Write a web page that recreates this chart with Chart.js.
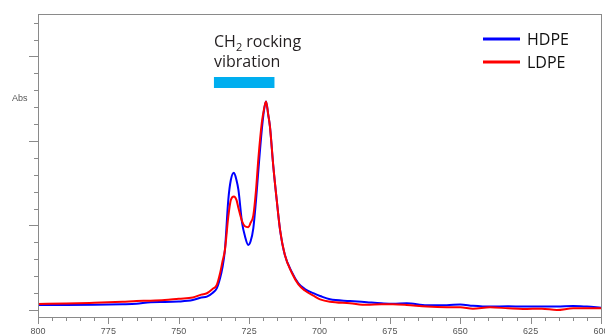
<!DOCTYPE html>
<html lang="en">
<head>
  <meta charset="UTF-8">
  <title>CH2 rocking vibration - HDPE vs LDPE</title>
  <script src="https://cdn.jsdelivr.net/npm/chart.js"></script>
  <style>
    body { margin: 0; background: #fff; }
    canvas { display: block; }
  </style>
</head>
<body>
  <canvas id="irChart" width="605" height="335"></canvas>

  <script>
    // wavenumber (cm-1)
    const wavenumbers = [800, 790, 780, 770, 765, 760, 755, 750, 745, 742, 740, 738, 736.5, 735.3, 734.5,
      733.6, 732.4, 731.5, 730.4, 729.5, 728.8, 727.5, 726.5, 725.3, 724.5, 723.5, 722.6, 721.7, 720.5,
      719.7, 719.0, 718.2, 717.6, 716.4, 715.2, 714.0, 712.3, 709.9, 707.5, 705.2, 701.6, 699.8, 696.3,
      689.2, 683.2, 678, 673.9, 669, 661.9, 654.8, 650, 645.5, 639.4, 633, 627.7, 621, 615.7, 609.9, 605, 600];

    const hdpe = [0.0030, 0.0030, 0.0031, 0.0034, 0.0037, 0.0046, 0.0047, 0.0050, 0.0059, 0.0074, 0.0079,
      0.0101, 0.0128, 0.0189, 0.0249, 0.0355, 0.0651, 0.0769, 0.0812, 0.0769, 0.0710, 0.0515, 0.0438,
      0.0385, 0.0405, 0.0485, 0.0640, 0.0830, 0.1065, 0.1183, 0.1234, 0.1154, 0.1085, 0.0848, 0.0651,
      0.0473, 0.0325, 0.0227, 0.0158, 0.0124, 0.0095, 0.0083, 0.0063, 0.0053, 0.0046, 0.0040, 0.0037,
      0.0040, 0.0028, 0.0028, 0.0033, 0.0025, 0.0020, 0.0022, 0.0020, 0.0021, 0.0020, 0.0024, 0.0020, 0.0014];

    const ldpe = [0.0036, 0.0038, 0.0043, 0.0049, 0.0053, 0.0055, 0.0059, 0.0067, 0.0074, 0.0091, 0.0099,
      0.0124, 0.0148, 0.0219, 0.0284, 0.0355, 0.0552, 0.0651, 0.0672, 0.0651, 0.0604, 0.0525, 0.0495,
      0.0490, 0.0515, 0.0560, 0.0700, 0.0899, 0.1107, 0.1190, 0.1234, 0.1154, 0.1085, 0.0848, 0.0651,
      0.0473, 0.0325, 0.0222, 0.0152, 0.0115, 0.0079, 0.0063, 0.0049, 0.0040, 0.0031, 0.0034, 0.0034,
      0.0030, 0.0020, 0.0016, 0.0016, 0.0008, 0.0016, 0.0010, 0.0006, 0.0008, 0.0000, 0.0010, 0.0010, 0.0010];

    const xTickLabels = [800, 775, 750, 725, 700, 675, 650, 625, 600];
    const yTicks = [0, 0.01, 0.02, 0.03, 0.04, 0.05, 0.06, 0.07, 0.08, 0.09, 0.10, 0.11, 0.12, 0.13, 0.14, 0.15, 0.16, 0.17];
    const bandRange = [737.5, 716]; // CH2 rocking band marker

    const toPoints = vals => wavenumbers.map((w, i) => ({ x: w, y: vals[i] }));

    const frame = {
      id: 'frame',
      afterDraw(chart) {
        const { ctx, chartArea: a, scales: { x, y } } = chart;
        ctx.save();
        ctx.strokeStyle = '#8a8a8a';
        ctx.lineWidth = 1;
        ctx.strokeRect(Math.round(a.left) + 0.5, Math.round(a.top) + 0.5,
          Math.round(a.right - a.left), Math.round(a.bottom - a.top));
        ctx.beginPath();
        x.ticks.forEach(t => {
          const px = Math.round(x.getPixelForValue(t.value)) + 0.5;
          const len = t.value % 25 === 0 ? 7 : 4;
          ctx.moveTo(px, a.bottom);
          ctx.lineTo(px, a.bottom + len);
        });
        y.ticks.forEach(t => {
          const py = Math.round(y.getPixelForValue(t.value)) + 0.5;
          const len = Math.round(t.value * 100) % 5 === 0 ? 9 : 4;
          ctx.moveTo(a.left, py);
          ctx.lineTo(a.left - len, py);
        });
        ctx.stroke();

        // axis name
        ctx.fillStyle = '#555';
        ctx.font = '9px "Liberation Sans", sans-serif';
        ctx.textBaseline = 'middle';
        ctx.fillText('Abs', 12, 99);

        // annotation
        ctx.fillStyle = '#231f20';
        ctx.textBaseline = 'alphabetic';
        ctx.font = '16px "Open Sans", sans-serif';
        let tx = 214;
        ctx.fillText('CH', tx, 47);
        tx += ctx.measureText('CH').width;
        ctx.font = '11px "Open Sans", sans-serif';
        ctx.fillText('2', tx, 51);
        tx += ctx.measureText('2').width;
        ctx.font = '16px "Open Sans", sans-serif';
        ctx.fillText(' rocking', tx, 47);
        ctx.fillText('vibration', 214, 67);
        const bx1 = x.getPixelForValue(bandRange[0]);
        const bx2 = x.getPixelForValue(bandRange[1]);
        ctx.fillStyle = '#00aeef';
        ctx.fillRect(bx1, 77, bx2 - bx1, 11);

        // legend
        const items = chart.data.datasets.filter(d => d.label === 'HDPE').concat(
          chart.data.datasets.filter(d => d.label === 'LDPE'));
        items.forEach((d, i) => {
          const ly = 39 + i * 23;
          ctx.strokeStyle = d.borderColor;
          ctx.lineWidth = 3;
          ctx.beginPath();
          ctx.moveTo(483, ly);
          ctx.lineTo(520, ly);
          ctx.stroke();
          ctx.fillStyle = '#111';
          ctx.textBaseline = 'middle';
          ctx.fillText(d.label, 527, ly + 1);
        });
        ctx.restore();
      }
    };

    new Chart(document.getElementById('irChart'), {
      type: 'line',
      data: {
        datasets: [
          { label: 'LDPE', data: toPoints(ldpe), borderColor: '#ff0000', order: 0 },
          { label: 'HDPE', data: toPoints(hdpe), borderColor: '#0000ff', order: 1 }
        ]
      },
      options: {
        responsive: false,
        animation: false,
        parsing: false,
        layout: { padding: { top: 14, right: 4, left: 0, bottom: 0 } },
        elements: {
          point: { radius: 0 },
          line: { borderWidth: 2, tension: 0.4, cubicInterpolationMode: 'monotone', fill: false }
        },
        plugins: { legend: { display: false }, tooltip: { enabled: false } },
        scales: {
          x: {
            type: 'linear',
            reverse: true,
            min: 600,
            max: 800,
            border: { display: false },
            grid: { display: false, drawTicks: true, tickLength: 7 },
            ticks: {
              stepSize: 5,
              autoSkip: false,
              maxRotation: 0,
              padding: 2,
              color: '#555',
              font: { family: 'Liberation Sans', size: 9 },
              callback: v => xTickLabels.includes(v) ? String(v) : ''
            },
            afterFit(scale) {
              scale.height = 18;
              scale.paddingLeft = 0;
              scale.paddingRight = 0;
            }
          },
          y: {
            type: 'linear',
            min: -0.00414,
            max: 0.1751,
            border: { display: false },
            grid: { display: false },
            ticks: { display: false },
            afterBuildTicks(scale) {
              scale.ticks = yTicks.map(v => ({ value: v }));
            },
            afterFit(scale) {
              scale.width = 38;
            }
          }
        }
      },
      plugins: [frame]
    });
  </script>
</body>
</html>
